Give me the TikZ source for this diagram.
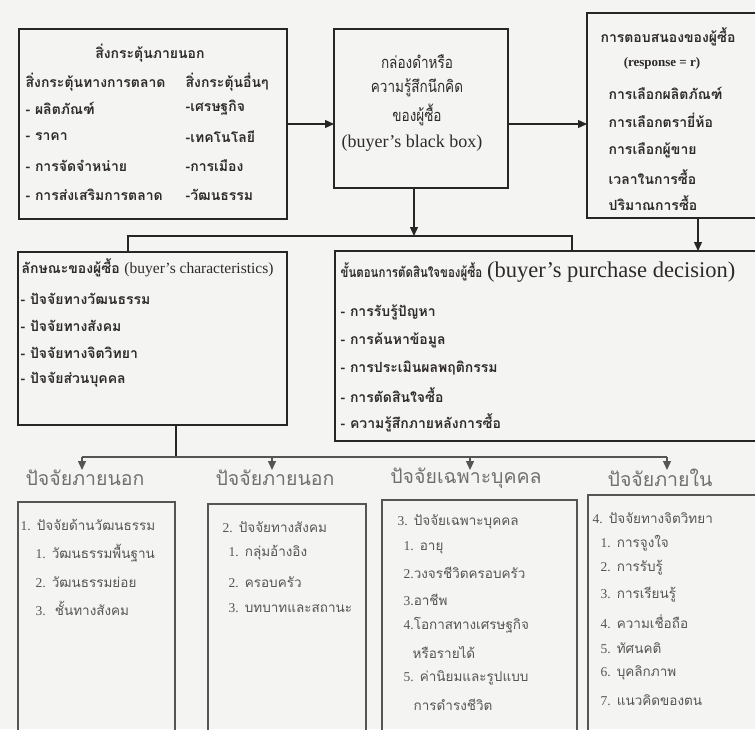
\documentclass[tikz,border=0pt]{standalone}
\usepackage{fontspec}
\setmainfont{Liberation Serif}
\newfontfamily\thaifont[Script=Thai]{Loma}
\newfontfamily\thaicond[Script=Thai,FakeStretch=0.82]{Loma}
\usetikzlibrary{arrows.meta,positioning}
\definecolor{bgColor}{HTML}{F4F4F2}
\definecolor{inkColor}{HTML}{2E2A2A}
\definecolor{boxColor}{HTML}{262626}
\definecolor{subColor}{HTML}{555555}
\definecolor{headColor}{HTML}{707070}
\newcommand{\tbold}{\thaifont\bfseries\fontsize{14}{16}\selectfont}
\newcommand{\tmid}{\thaicond\fontsize{16.5}{19}\selectfont}
\newcommand{\tsub}{\thaifont\fontsize{13.5}{15}\selectfont}
\newcommand{\thead}{\thaifont\fontsize{19.5}{22}\selectfont}
\newcommand{\en}[1]{{\rmfamily #1}}
\tikzset{
	box/.style={draw=boxColor, line width=1.4pt, inner sep=0, outer sep=0},
	subbox/.style={draw=subColor, line width=1.1pt, inner sep=0, outer sep=0},
	lft/.style={anchor=west, inner sep=0, text=inkColor, font=\tbold},
	ctr/.style={inner sep=0, text=inkColor, font=\tbold},
	mid/.style={inner sep=0, text=inkColor, font=\tmid},
	sub/.style={anchor=west, inner sep=0, text=subColor, font=\tsub},
	head/.style={inner sep=0, text=headColor, font=\thead}
}

\begin{document}
\begin{tikzpicture}[x=1pt, y=-1pt, >={Triangle[length=9pt,width=8pt]},
	line width=1.3pt, draw=boxColor]
	\path[use as bounding box, fill=bgColor] (0,0) rectangle (755,729);
	\clip (0,0) rectangle (755,729);
	% stimuli, black box, response
	\node[box, minimum width=268, minimum height=190] (stim) at (153,124) {};
	\node[box, minimum width=174, minimum height=159] (bbox) at (421,108.5) {};
	\node[box, minimum width=173, minimum height=205] (resp) at (673.5,115.5) {};
	\node[ctr] (stim_t) at (150,53) {สิ่งกระตุ้นภายนอก};
	\node[lft] (stim_m) at (25,82) {สิ่งกระตุ้นทางการตลาด};
	\node[lft] (stim_o) at (185,82) {สิ่งกระตุ้นอื่นๆ};
	\node[lft] (stim_m1) at (25,108) {- ผลิตภัณฑ์};
	\node[lft] (stim_m2) at (25,137) {- ราคา};
	\node[lft] (stim_m3) at (25,166) {- การจัดจำหน่าย};
	\node[lft] (stim_m4) at (25,195) {- การส่งเสริมการตลาด};
	\node[lft] (stim_o1) at (185,108) {-เศรษฐกิจ};
	\node[lft] (stim_o2) at (185,137) {-เทคโนโลยี};
	\node[lft] (stim_o3) at (185,166) {-การเมือง};
	\node[lft] (stim_o4) at (185,195) {-วัฒนธรรม};
	\node[mid] (bbox_1) at (417,62) {กล่องดำหรือ};
	\node[mid] (bbox_2) at (417,88) {ความรู้สึกนึกคิด};
	\node[mid] (bbox_3) at (417,115) {ของผู้ซื้อ};
	\node[mid, font=\rmfamily\fontsize{18}{20}\selectfont] (bbox_4) at (412,143) {(buyer’s black box)};
	\node[ctr] (resp_t) at (668,37) {การตอบสนองของผู้ซื้อ};
	\node[ctr, font=\rmfamily\bfseries\fontsize{13}{15}\selectfont] (resp_r) at (662,63) {(response = r)};
	\node[lft] (resp_1) at (608,93) {การเลือกผลิตภัณฑ์};
	\node[lft] (resp_2) at (608,120) {การเลือกตรายี่ห้อ};
	\node[lft] (resp_3) at (608,150) {การเลือกผู้ขาย};
	\node[lft] (resp_4) at (608,177) {เวลาในการซื้อ};
	\node[lft] (resp_5) at (608,203) {ปริมาณการซื้อ};
	\draw[->] (stim.east) -- (stim.east -| bbox.west);
	\draw[->] (bbox.east |- stim.east) -- (resp.west |- stim.east);
	% characteristics and decision
	\node[box, minimum width=269, minimum height=173] (chars) at (152.5,338.5) {};
	\node[box, minimum width=425, minimum height=190] (dec) at (547.5,346) {};
	\node[lft] (chars_t) at (21,268) {ลักษณะของผู้ซื้อ \en{\mdseries\fontsize{15.5}{17}\selectfont(buyer’s characteristics)}};
	\node[lft] (chars_1) at (20,299) {- ปัจจัยทางวัฒนธรรม};
	\node[lft] (chars_2) at (20,326) {- ปัจจัยทางสังคม};
	\node[lft] (chars_3) at (20,353) {- ปัจจัยทางจิตวิทยา};
	\node[lft] (chars_4) at (20,380) {- ปัจจัยส่วนบุคคล};
	\node[lft] (dec_t) at (340,272) {{\thaicond ขั้นตอนการตัดสินใจของผู้ซื้อ} \en{\mdseries\fontsize{22.5}{24}\selectfont(buyer’s purchase decision)}};
	\node[lft] (dec_1) at (340,312) {- การรับรู้ปัญหา};
	\node[lft] (dec_2) at (340,340) {- การค้นหาข้อมูล};
	\node[lft] (dec_3) at (340,368) {- การประเมินผลพฤติกรรม};
	\node[lft] (dec_4) at (340,395) {- การตัดสินใจซื้อ};
	\node[lft] (dec_5) at (340,423) {- ความรู้สึกภายหลังการซื้อ};
	\coordinate (bar) at (414,236);
	\coordinate (barL) at (128,236);
	\coordinate (barR) at (572,236);
	\draw[->] (bbox.south -| bar) -- (bar);
	\draw (chars.north -| barL) -- (barL) -- (barR) -- (barR |- dec.north);
	\draw[->] (resp.south -| 698,0) -- (dec.north -| 698,0);
	% factor groups
	\node[head] (h1) at (85,478) {ปัจจัยภายนอก};
	\node[head] (h2) at (275,478) {ปัจจัยภายนอก};
	\node[head] (h3) at (466,478) {ปัจจัยเฉพาะบุคคล};
	\node[head] (h4) at (660,478) {ปัจจัยภายใน};
	\coordinate (f0) at (176,457);
	\coordinate (f1) at (82,457);
	\coordinate (f2) at (272,457);
	\coordinate (f3) at (470,457);
	\coordinate (f4) at (667,457);
	\draw (chars.south -| f0) -- (f0);
	\draw[subColor] (f1) -- (f4);
	\draw[->, subColor] (f1) -- ++(0,13);
	\draw[->, subColor] (f2) -- ++(0,13);
	\draw[->, subColor] (f3) -- ++(0,13);
	\draw[->, subColor] (f4) -- ++(0,13);
	\node[subbox, minimum width=157, minimum height=238] (cult) at (96.5,621) {};
	\node[subbox, minimum width=158, minimum height=236] (soc) at (287,622) {};
	\node[subbox, minimum width=195, minimum height=240] (pers) at (479.5,620) {};
	\node[subbox, minimum width=172, minimum height=245] (psy) at (674,617.5) {};
	\node[sub] (cult_t) at (20,525) {\en{1.} ปัจจัยด้านวัฒนธรรม};
	\node[sub] (cult_1) at (35,553) {\en{1.} วัฒนธรรมพื้นฐาน};
	\node[sub] (cult_2) at (35,582) {\en{2.} วัฒนธรรมย่อย};
	\node[sub] (cult_3) at (35,608) {\en{3.}\ \ ชั้นทางสังคม};
	\node[sub] (soc_t) at (222,527) {\en{2.} ปัจจัยทางสังคม};
	\node[sub] (soc_1) at (228,553) {\en{1.} กลุ่มอ้างอิง};
	\node[sub] (soc_2) at (228,582) {\en{2.} ครอบครัว};
	\node[sub] (soc_3) at (228,608) {\en{3.} บทบาทและสถานะ};
	\node[sub] (pers_t) at (397,522) {\en{3.} ปัจจัยเฉพาะบุคคล};
	\node[sub] (pers_1) at (403,548) {\en{1.} อายุ};
	\node[sub] (pers_2) at (403,573) {\en{2.}วงจรชีวิตครอบครัว};
	\node[sub] (pers_3) at (403,600) {\en{3.}อาชีพ};
	\node[sub] (pers_4) at (403,625) {\en{4.}โอกาสทางเศรษฐกิจ};
	\node[sub] (pers_4b) at (412,652) {หรือรายได้};
	\node[sub] (pers_5) at (403,678) {\en{5.} ค่านิยมและรูปแบบ};
	\node[sub] (pers_5b) at (413,705) {การดำรงชีวิต};
	\node[sub] (psy_t) at (592,518) {\en{4.} ปัจจัยทางจิตวิทยา};
	\node[sub] (psy_1) at (600,543) {\en{1.} การจูงใจ};
	\node[sub] (psy_2) at (600,568) {\en{2.} การรับรู้};
	\node[sub] (psy_3) at (600,595) {\en{3.} การเรียนรู้};
	\node[sub] (psy_4) at (600,622) {\en{4.} ความเชื่อถือ};
	\node[sub] (psy_5) at (600,648) {\en{5.} ทัศนคติ};
	\node[sub] (psy_6) at (600,673) {\en{6.} บุคลิกภาพ};
	\node[sub] (psy_7) at (600,700) {\en{7.} แนวคิดของตน};
\end{tikzpicture}
\end{document}
